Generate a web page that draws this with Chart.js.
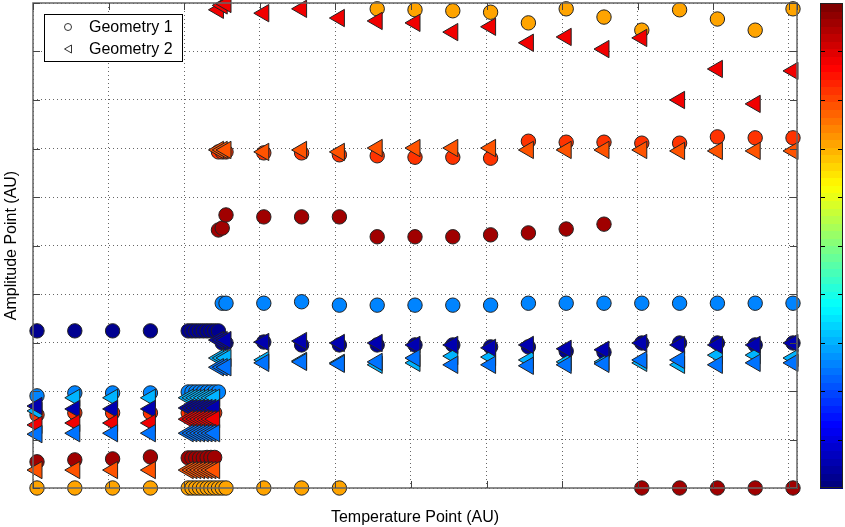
<!DOCTYPE html>
<html>
<head>
<meta charset="utf-8">
<script src="https://cdn.jsdelivr.net/npm/chart.js@4.4.0/dist/chart.umd.min.js"></script>
<style>
  html, body { margin: 0; padding: 0; background: #fff; }
  #wrap { width: 845px; height: 527px; }
</style>
</head>
<body>
<div id="wrap"><canvas id="c" width="845" height="527"></canvas></div>
<script>
// Temperature points shared by every track: left columns, a dense cluster, right columns
const tempPoints = [
  0, 0.5, 1, 1.5,
  2.0, 2.05, 2.1, 2.15, 2.2, 2.25, 2.3, 2.35,
  2.4, 2.45, 2.5,
  3, 3.5, 4, 4.5, 5, 5.5, 6, 6.5, 7, 7.5, 8, 8.5, 9, 9.5, 10
];

// Geometry 1 tracks (amplitude per temperature point) and their colour value (0..1)
const g1OrangeC = 0.71;
const g1OrangeY = [0, 0, 0, 0, 0, 0, 0, 0, 0, 0, 0, 0, 0, 0, 0,
  0, 0, 0, 9.88, 9.86, 9.84, 9.81, 9.59, 9.88, 9.71, 9.44, 9.86, 9.67, 9.44, 9.88];
const g1DarkRedC = 0.97;
const g1DarkRedY = [0.54, 0.58, 0.60, 0.64, 0.62, 0.62, 0.62, 0.62, 0.62, 0.63, 0.63, 0.63, 5.32, 5.36, 5.63,
  5.59, 5.59, 5.59, 5.18, 5.18, 5.18, 5.22, 5.26, 5.34, 5.44, 0, 0, 0, 0, 0];
const g1RedOrangeC = 0.82;
const g1RedOrangeY = [1.51, 1.55, 1.55, 1.55, 1.55, 1.55, 1.55, 1.55, 1.55, 1.55, 1.55, 1.55, 6.93, 6.93, 6.93,
  6.91, 6.91, 6.87, 6.85, 6.82, 6.82, 6.80, 7.15, 7.13, 7.13, 7.11, 7.11, 7.24, 7.22, 7.22];
const g1BlueC = 0.25;
const g1BlueY = [1.90, 1.96, 1.96, 1.96, 1.98, 1.98, 1.98, 1.98, 1.98, 1.98, 1.98, 1.98, 1.98, 3.81, 3.81,
  3.81, 3.84, 3.77, 3.77, 3.77, 3.77, 3.77, 3.81, 3.81, 3.81, 3.81, 3.81, 3.81, 3.81, 3.81];
const g1NavyC = 0.02;
const g1NavyY = [3.24, 3.24, 3.24, 3.24, 3.24, 3.24, 3.24, 3.24, 3.24, 3.24, 3.24, 3.24, 3.24, 2.99, 2.99,
  3.01, 2.95, 2.95, 2.95, 2.95, 2.95, 2.91, 2.91, 2.82, 2.80, 2.99, 2.99, 2.99, 2.95, 2.99];

// Geometry 2 tracks
const g2OrangeC = 0.79;
const g2OrangeY = [0.37, 0.37, 0.37, 0.37, 0.37, 0.37, 0.37, 0.37, 0.37, 0.37, 0.37, 0.37, 6.97, 6.97, 6.97,
  6.93, 6.97, 6.93, 7.01, 7.01, 7.01, 7.01, 6.97, 6.97, 6.97, 6.97, 6.95, 6.95, 6.95, 6.95];
const g2RedC = 0.89;
const g2RedY = [1.30, 1.34, 1.34, 1.34, 1.42, 1.42, 1.42, 1.42, 1.42, 1.42, 1.42, 1.42, 9.86, 9.95, 9.98,
  9.79, 9.88, 9.69, 9.63, 9.59, 9.40, 9.51, 9.18, 9.30, 9.05, 9.28, 8.00, 8.64, 7.92, 8.60];
const g2NavyC = 0.04;
const g2NavyY = [1.69, 1.63, 1.63, 1.63, 1.65, 1.65, 1.65, 1.65, 1.65, 1.65, 1.65, 1.65, 3.05, 3.05, 3.05,
  3.01, 3.03, 2.99, 2.99, 2.95, 2.95, 2.89, 2.95, 2.87, 2.85, 2.99, 2.95, 2.95, 2.95, 2.99];
const g2LightC = 0.30;
const g2LightY = [1.59, 1.86, 1.86, 1.86, 1.86, 1.86, 1.86, 1.86, 1.86, 1.86, 1.86, 1.86, 2.68, 2.68, 2.68,
  2.64, 2.62, 2.58, 2.54, 2.58, 2.72, 2.70, 2.64, 2.60, 2.60, 2.58, 2.54, 2.74, 2.74, 2.68];
const g2BlueC = 0.24;
const g2BlueY = [1.11, 1.13, 1.13, 1.13, 1.13, 1.13, 1.13, 1.13, 1.13, 1.13, 1.13, 1.13, 2.49, 2.49, 2.49,
  2.58, 2.60, 2.56, 2.60, 2.68, 2.54, 2.54, 2.52, 2.54, 2.56, 2.64, 2.64, 2.54, 2.58, 2.58];

const seriesLabels = ['Geometry 1', 'Geometry 2'];
const FONT = '"Liberation Sans", Arial, Helvetica, sans-serif';

// MATLAB-style jet colormap with 64 levels
function jet(v) {
  const t = Math.round(Math.max(0, Math.min(1, v)) * 63) / 63;
  const cl = x => Math.max(0, Math.min(1, x));
  const r = cl(Math.min(4 * t - 1.5, -4 * t + 4.5));
  const g = cl(Math.min(4 * t - 0.5, -4 * t + 3.5));
  const b = cl(Math.min(4 * t + 0.5, -4 * t + 2.5));
  return `rgb(${Math.round(r * 255)},${Math.round(g * 255)},${Math.round(b * 255)})`;
}

function buildPoints(tracks) {
  const pts = [];
  tracks.forEach(([ys, c]) => ys.forEach((y, i) => pts.push({ x: tempPoints[i], y: y, c: c })));
  return pts;
}

const geom1 = buildPoints([
  [g1OrangeY, g1OrangeC], [g1DarkRedY, g1DarkRedC], [g1RedOrangeY, g1RedOrangeC],
  [g1BlueY, g1BlueC], [g1NavyY, g1NavyC]
]);
const geom2 = buildPoints([
  [g2OrangeY, g2OrangeC], [g2LightY, g2LightC], [g2NavyY, g2NavyC],
  [g2RedY, g2RedC], [g2BlueY, g2BlueC]
]);

const pointFill = ctx => (ctx.raw ? jet(ctx.raw.c) : '#fff');

// Axes box with inward tick marks on all four sides
const boxPlugin = {
  id: 'axesBox',
  afterDatasetsDraw(chart) {
    const { ctx, chartArea: a, scales } = chart;
    ctx.save();
    ctx.strokeStyle = '#666';
    ctx.lineWidth = 1.5;
    ctx.strokeRect(a.left, a.top, a.right - a.left, a.bottom - a.top);
    ctx.lineWidth = 1;
    ctx.strokeStyle = '#444';
    const tl = 7;
    ctx.beginPath();
    scales.x.ticks.forEach(t => {
      const px = Math.round(scales.x.getPixelForValue(t.value)) + 0.5;
      ctx.moveTo(px, a.bottom); ctx.lineTo(px, a.bottom - tl);
      ctx.moveTo(px, a.top); ctx.lineTo(px, a.top + tl);
    });
    scales.y.ticks.forEach(t => {
      const py = Math.round(scales.y.getPixelForValue(t.value)) + 0.5;
      ctx.moveTo(a.left, py); ctx.lineTo(a.left + tl, py);
      ctx.moveTo(a.right, py); ctx.lineTo(a.right - tl, py);
    });
    ctx.stroke();
    ctx.restore();
  }
};

// Colour bar on the right, spanning the axes height
const colorbarPlugin = {
  id: 'colorbar',
  afterDraw(chart) {
    const { ctx, chartArea: a, scales } = chart;
    const x0 = 820, x1 = 843;
    const top = a.top, bottom = a.bottom;
    const n = 64, h = (bottom - top) / n;
    ctx.save();
    for (let i = 0; i < n; i++) {
      ctx.fillStyle = jet(i / (n - 1));
      const yb = bottom - i * h;
      ctx.fillRect(x0, Math.floor(yb - h), x1 - x0, Math.ceil(h) + 1);
    }
    ctx.strokeStyle = '#000';
    ctx.lineWidth = 1;
    ctx.beginPath();
    scales.y.ticks.forEach(t => {
      if (t.value <= 0 || t.value >= 10) return;
      const py = Math.round(scales.y.getPixelForValue(t.value)) + 0.5;
      ctx.moveTo(x0, py); ctx.lineTo(x0 + 5, py);
      ctx.moveTo(x1, py); ctx.lineTo(x1 - 5, py);
    });
    ctx.stroke();
    ctx.strokeStyle = '#222';
    ctx.strokeRect(x0 + 0.5, top + 0.5, x1 - x0 - 1, bottom - top - 1);
    ctx.restore();
  }
};

// Boxed legend in the upper-left corner of the axes
const legendPlugin = {
  id: 'boxLegend',
  afterDraw(chart) {
    const { ctx } = chart;
    const bx = 44.5, by = 14.5, bw = 138, bh = 47;
    ctx.save();
    ctx.fillStyle = '#fff';
    ctx.fillRect(bx, by, bw, bh);
    ctx.strokeStyle = '#000';
    ctx.lineWidth = 1;
    ctx.strokeRect(bx, by, bw, bh);
    ctx.strokeStyle = '#333';
    ctx.beginPath();
    ctx.arc(68, 27, 3.5, 0, Math.PI * 2);
    ctx.stroke();
    ctx.beginPath();
    ctx.moveTo(64.5, 49); ctx.lineTo(71.5, 45); ctx.lineTo(71.5, 53); ctx.closePath();
    ctx.stroke();
    ctx.fillStyle = '#000';
    ctx.font = '16px ' + FONT;
    ctx.textBaseline = 'middle';
    ctx.fillText(chart.data.datasets[0].label, 89, 28);
    ctx.fillText(chart.data.datasets[1].label, 89, 50);
    ctx.restore();
  }
};

const gridCommon = { color: 'rgba(0,0,0,0.6)', lineWidth: 1, drawTicks: false };
const titleFont = { family: FONT, size: 16 };

new Chart(document.getElementById('c'), {
  type: 'scatter',
  data: {
    datasets: [
      {
        label: seriesLabels[0], data: geom1, order: 1, clip: false,
        pointStyle: 'circle', pointRadius: 7.2, pointHoverRadius: 7.2,
        pointBorderWidth: 1, pointBorderColor: '#222', pointBackgroundColor: pointFill
      },
      {
        label: seriesLabels[1], data: geom2, order: 0, clip: false,
        pointStyle: 'triangle', pointRotation: -90, pointRadius: 10, pointHoverRadius: 10,
        pointBorderWidth: 1, pointBorderColor: '#222', pointBackgroundColor: pointFill
      }
    ]
  },
  options: {
    responsive: false,
    animation: false,
    events: [],
    layout: { autoPadding: false, padding: { left: 0, right: 48, top: 3, bottom: 0 } },
    plugins: { legend: { display: false }, tooltip: { enabled: false } },
    scales: {
      x: {
        type: 'linear', min: -0.053, max: 10.053, bounds: 'data',
        ticks: { display: false, stepSize: 1, includeBounds: false },
        grid: gridCommon,
        border: { display: false, dash: [1, 3] },
        title: { display: true, text: 'Temperature Point (AU)', color: '#000', font: titleFont, padding: { top: 0, bottom: 0 } },
        afterFit: s => { s.height = 39; }
      },
      y: {
        type: 'linear', min: 0, max: 10, bounds: 'data',
        ticks: { display: false, stepSize: 1, includeBounds: false },
        grid: gridCommon,
        border: { display: false, dash: [1, 3] },
        title: { display: true, text: 'Amplitude Point (AU)', color: '#000', font: titleFont, padding: { top: 2, bottom: 0 } },
        afterFit: s => { s.width = 33; }
      }
    }
  },
  plugins: [boxPlugin, colorbarPlugin, legendPlugin]
});
</script>
</body>
</html>
